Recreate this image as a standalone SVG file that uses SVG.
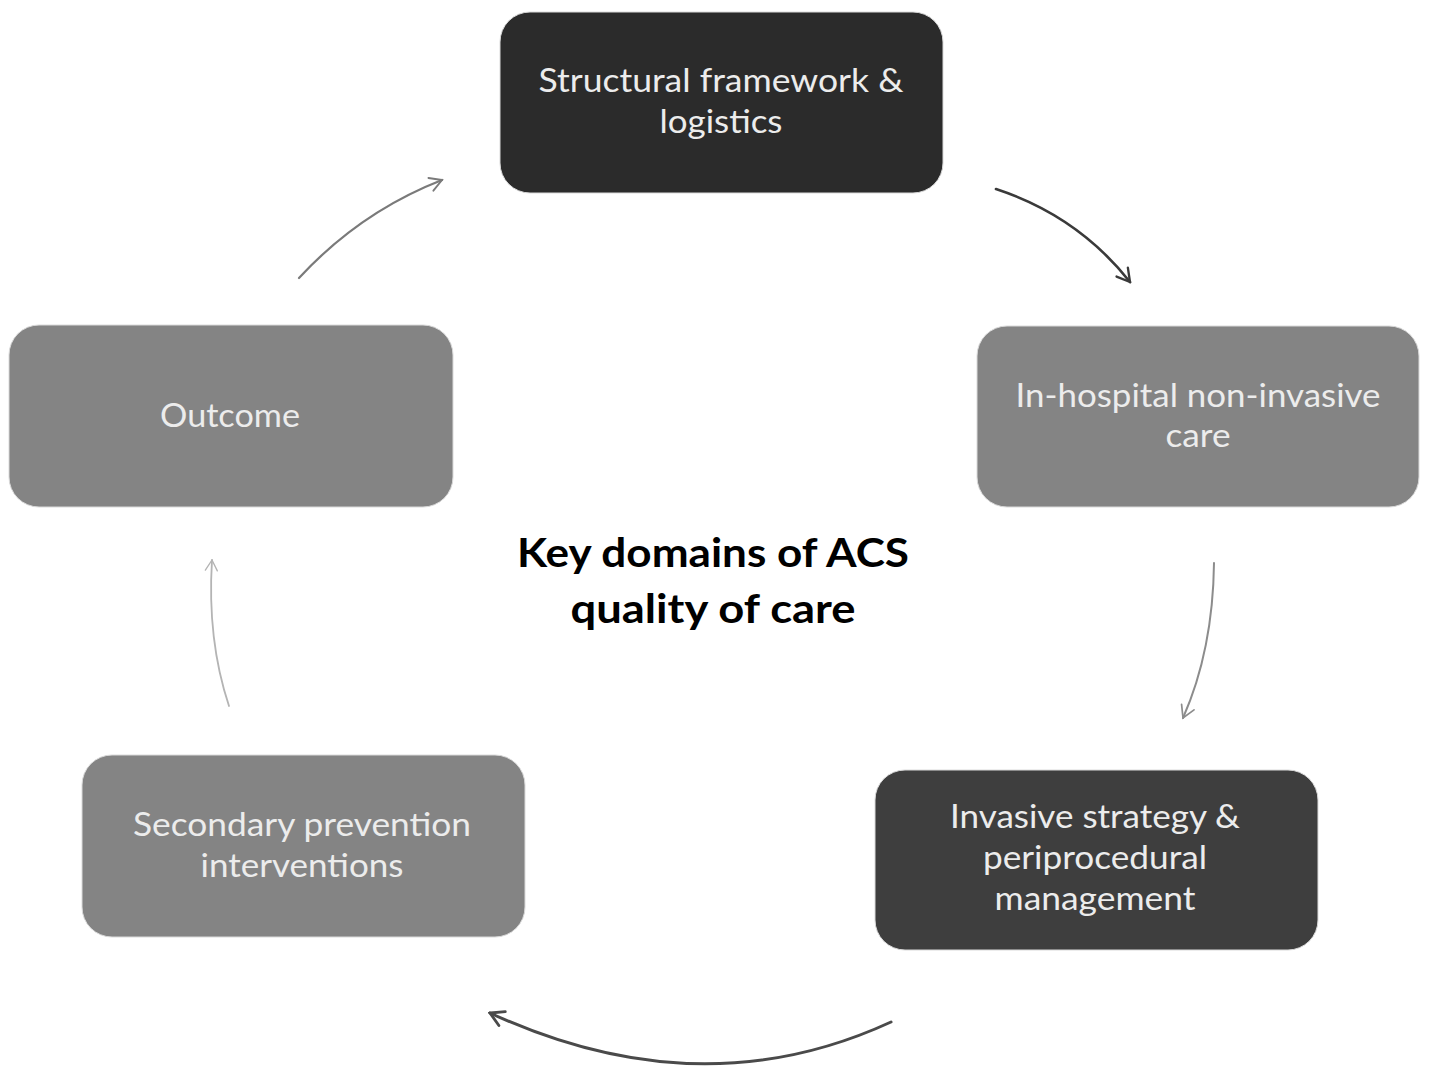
<svg xmlns="http://www.w3.org/2000/svg" width="1429" height="1068" viewBox="0 0 1429 1068">
  <style>
    .box { stroke: #dadada; stroke-width: 1; }
    .dark { fill: #2b2b2b; }
    .darker { fill: #3e3e3e; }
    .mid { fill: #848484; }
    .lbl { font-family: Lato, "Open Sans", "Liberation Sans", sans-serif; font-size: 33px; fill: #ececec; text-anchor: middle; }
    .title { font-family: Lato, "Open Sans", "Liberation Sans", sans-serif; font-size: 40px; font-weight: bold; fill: #000; text-anchor: middle; }
    .arc { fill: none; stroke-linecap: round; }
  </style>
  <defs>
    <marker id="head-a" viewBox="0 0 20 20" refX="18" refY="10" markerWidth="17" markerHeight="17" markerUnits="userSpaceOnUse" orient="auto">
      <path d="M4,2 L18,10 L4,18" fill="none" stroke="#7a7a7a" stroke-width="2.2" stroke-linecap="round"/>
    </marker>
    <marker id="head-b" viewBox="0 0 20 20" refX="18" refY="10" markerWidth="18" markerHeight="18" markerUnits="userSpaceOnUse" orient="auto">
      <path d="M4,2 L18,10 L4,18" fill="none" stroke="#3a3a3a" stroke-width="2.6" stroke-linecap="round"/>
    </marker>
    <marker id="head-c" viewBox="0 0 20 20" refX="18" refY="10" markerWidth="17" markerHeight="17" markerUnits="userSpaceOnUse" orient="auto">
      <path d="M4,2 L18,10 L4,18" fill="none" stroke="#8c8c8c" stroke-width="2" stroke-linecap="round"/>
    </marker>
    <marker id="head-d" viewBox="0 0 20 20" refX="18" refY="10" markerWidth="19" markerHeight="19" markerUnits="userSpaceOnUse" orient="auto">
      <path d="M4,2 L18,10 L4,18" fill="none" stroke="#4a4a4a" stroke-width="3" stroke-linecap="round"/>
    </marker>
    <marker id="head-e" viewBox="0 0 20 20" refX="18" refY="10" markerWidth="15" markerHeight="15" markerUnits="userSpaceOnUse" orient="auto">
      <path d="M4,2 L18,10 L4,18" fill="none" stroke="#b4b4b4" stroke-width="1.8" stroke-linecap="round"/>
    </marker>
  </defs>

  <rect width="1429" height="1068" fill="#ffffff"/>

  <!-- cycle connectors -->
  <g id="connectors">
    <path class="arc" d="M299,278 Q360,212 442,180" stroke="#7a7a7a" stroke-width="2.2" marker-end="url(#head-a)"/>
    <path class="arc" d="M996,189 Q1078,216 1130,282" stroke="#3a3a3a" stroke-width="2.6" marker-end="url(#head-b)"/>
    <path class="arc" d="M1214,563 Q1213,650 1183,718" stroke="#8c8c8c" stroke-width="2" marker-end="url(#head-c)"/>
    <path class="arc" d="M891,1022 Q700,1110 490,1013" stroke="#4a4a4a" stroke-width="3" marker-end="url(#head-d)"/>
    <path class="arc" d="M229,706 Q207,640 212,560" stroke="#b4b4b4" stroke-width="1.8" marker-end="url(#head-e)"/>
  </g>

  <g id="node-structural">
    <rect class="box dark" x="500" y="12" width="443" height="181" rx="30"/>
    <text class="lbl" x="721" y="92" textLength="365" lengthAdjust="spacingAndGlyphs">Structural framework &amp;</text>
    <text class="lbl" x="721" y="133" textLength="123" lengthAdjust="spacingAndGlyphs">logistics</text>
  </g>

  <g id="node-inhospital">
    <rect class="box mid" x="977" y="326" width="442" height="181" rx="30"/>
    <text class="lbl" x="1198" y="407" textLength="365" lengthAdjust="spacingAndGlyphs">In-hospital non-invasive</text>
    <text class="lbl" x="1198" y="447" textLength="65" lengthAdjust="spacingAndGlyphs">care</text>
  </g>

  <g id="node-invasive">
    <rect class="box darker" x="875" y="770" width="443" height="180" rx="30"/>
    <text class="lbl" x="1095" y="828" textLength="290" lengthAdjust="spacingAndGlyphs">Invasive strategy &amp;</text>
    <text class="lbl" x="1095" y="869" textLength="224" lengthAdjust="spacingAndGlyphs">periprocedural</text>
    <text class="lbl" x="1095" y="910" textLength="201" lengthAdjust="spacingAndGlyphs">management</text>
  </g>

  <g id="node-secondary">
    <rect class="box mid" x="82" y="755" width="443" height="182" rx="30"/>
    <text class="lbl" x="302" y="836" textLength="338" lengthAdjust="spacingAndGlyphs">Secondary prevention</text>
    <text class="lbl" x="302" y="877" textLength="203" lengthAdjust="spacingAndGlyphs">interventions</text>
  </g>

  <g id="node-outcome">
    <rect class="box mid" x="9" y="325" width="444" height="182" rx="30"/>
    <text class="lbl" x="230" y="427" textLength="140" lengthAdjust="spacingAndGlyphs">Outcome</text>
  </g>

  <g id="centre-title">
    <text class="title" x="713" y="567" textLength="392" lengthAdjust="spacingAndGlyphs">Key domains of ACS</text>
    <text class="title" x="713" y="623" textLength="285" lengthAdjust="spacingAndGlyphs">quality of care</text>
  </g>
</svg>
